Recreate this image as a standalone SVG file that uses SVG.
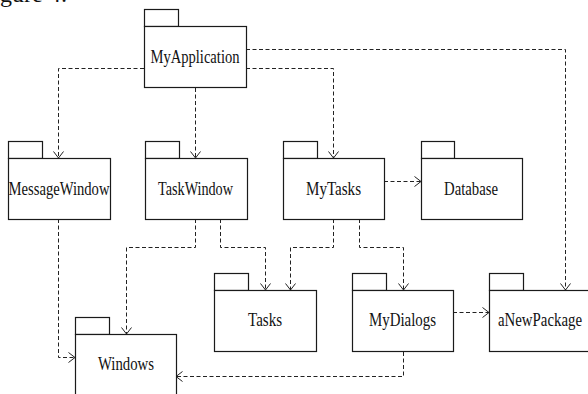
<svg xmlns="http://www.w3.org/2000/svg" width="588" height="394" viewBox="0 0 588 394">
  <defs>
    <style>
      .pkg rect { fill: #fff; stroke: #1a1a1a; stroke-width: 1.2; }
      .pkg text { font-family: "Liberation Serif", "Times New Roman", serif; font-size: 18px; fill: #111; text-anchor: middle; }
      .dep { fill: none; stroke: #222; stroke-width: 1; stroke-dasharray: 4 2.5; }
      .caption { font-family: "Liberation Serif", "Times New Roman", serif; font-size: 24px; fill: #111; }
    </style>
    <marker id="open" markerUnits="userSpaceOnUse" markerWidth="14" markerHeight="14" viewBox="-8 -7 10 14" refX="0" refY="0" orient="auto">
      <path d="M-6.5,-5 L0,0 L-6.5,5" fill="none" stroke="#222" stroke-width="1"/>
    </marker>
  </defs>

  <rect width="588" height="394" fill="#fff"/>

  <text class="caption" x="-20" y="1.5">Figure 4:</text>

  <!-- dependency connectors -->
  <g id="connectors" marker-end="url(#open)">
    <path class="dep" d="M144,68.5 H58.5 V158"/>
    <path class="dep" d="M195.5,88 V158"/>
    <path class="dep" d="M246,68.5 H333.5 V158"/>
    <path class="dep" d="M246,49.5 H565.5 V290"/>
    <path class="dep" d="M384,181.5 H421"/>
    <path class="dep" d="M58.5,219 V357.5 H75"/>
    <path class="dep" d="M195.5,219 V247.5 H126.5 V334"/>
    <path class="dep" d="M220.5,219 V247.5 H265.5 V290"/>
    <path class="dep" d="M333.5,219 V247.5 H290.5 V290"/>
    <path class="dep" d="M359.5,219 V247.5 H403.5 V290"/>
    <path class="dep" d="M453,312.5 H489"/>
    <path class="dep" d="M403.5,352 V376.5 H176"/>
  </g>

  <!-- packages -->
  <g id="MyApplication" class="pkg">
    <rect x="144.5" y="9.5" width="34" height="17"/>
    <rect x="144.5" y="26.5" width="102" height="61"/>
    <text x="195" y="62.5" textLength="89" lengthAdjust="spacingAndGlyphs">MyApplication</text>
  </g>

  <g id="MessageWindow" class="pkg">
    <rect x="8.5" y="141.5" width="34" height="17"/>
    <rect x="8.5" y="158.5" width="102" height="61"/>
    <text x="59" y="195" textLength="101" lengthAdjust="spacingAndGlyphs">MessageWindow</text>
  </g>

  <g id="TaskWindow" class="pkg">
    <rect x="145.5" y="141.5" width="34" height="17"/>
    <rect x="145.5" y="158.5" width="102" height="61"/>
    <text x="195.5" y="195" textLength="75" lengthAdjust="spacingAndGlyphs">TaskWindow</text>
  </g>

  <g id="MyTasks" class="pkg">
    <rect x="283.5" y="141.5" width="34" height="17"/>
    <rect x="283.5" y="158.5" width="101" height="61"/>
    <text x="333.5" y="195" textLength="55" lengthAdjust="spacingAndGlyphs">MyTasks</text>
  </g>

  <g id="Database" class="pkg">
    <rect x="421.5" y="141.5" width="33" height="17"/>
    <rect x="421.5" y="158.5" width="101" height="61"/>
    <text x="471" y="195" textLength="54" lengthAdjust="spacingAndGlyphs">Database</text>
  </g>

  <g id="Tasks" class="pkg">
    <rect x="214.5" y="273.5" width="34" height="17"/>
    <rect x="214.5" y="290.5" width="102" height="61"/>
    <text x="265" y="326" textLength="34" lengthAdjust="spacingAndGlyphs">Tasks</text>
  </g>

  <g id="MyDialogs" class="pkg">
    <rect x="352.5" y="273.5" width="34" height="17"/>
    <rect x="352.5" y="290.5" width="101" height="61"/>
    <text x="402.5" y="326" textLength="67" lengthAdjust="spacingAndGlyphs">MyDialogs</text>
  </g>

  <g id="aNewPackage" class="pkg">
    <rect x="489.5" y="273.5" width="34" height="17"/>
    <rect x="489.5" y="290.5" width="102" height="61"/>
    <text x="540" y="326" textLength="84" lengthAdjust="spacingAndGlyphs">aNewPackage</text>
  </g>

  <g id="Windows" class="pkg">
    <rect x="75.5" y="317.5" width="34" height="17"/>
    <rect x="75.5" y="334.5" width="101" height="70"/>
    <text x="126" y="370" textLength="56" lengthAdjust="spacingAndGlyphs">Windows</text>
  </g>
</svg>
